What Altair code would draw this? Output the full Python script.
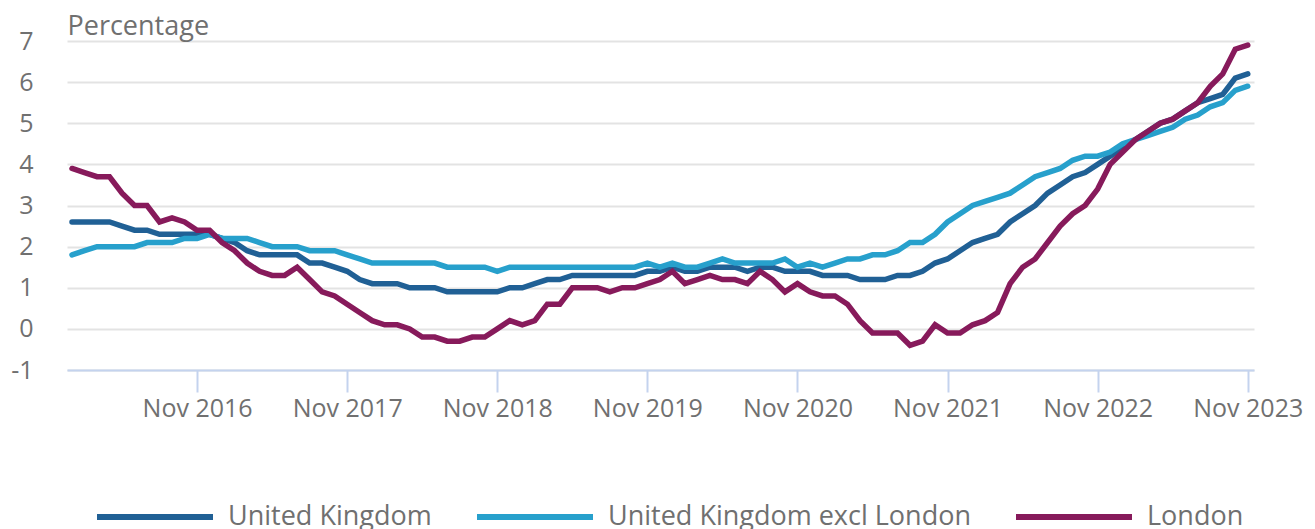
import altair as alt
import pandas as pd

# Monthly, Jan 2016 .. Nov 2023 (95 months)
month_index = list(range(95))

uk = [2.6, 2.6, 2.6, 2.6, 2.5, 2.4, 2.4, 2.3, 2.3, 2.3, 2.3, 2.3,
      2.2, 2.1, 1.9, 1.8, 1.8, 1.8, 1.8, 1.6, 1.6, 1.5, 1.4, 1.2,
      1.1, 1.1, 1.1, 1.0, 1.0, 1.0, 0.9, 0.9, 0.9, 0.9, 0.9, 1.0,
      1.0, 1.1, 1.2, 1.2, 1.3, 1.3, 1.3, 1.3, 1.3, 1.3, 1.4, 1.4,
      1.5, 1.4, 1.4, 1.5, 1.5, 1.5, 1.4, 1.5, 1.5, 1.4, 1.4, 1.4,
      1.3, 1.3, 1.3, 1.2, 1.2, 1.2, 1.3, 1.3, 1.4, 1.6, 1.7, 1.9,
      2.1, 2.2, 2.3, 2.6, 2.8, 3.0, 3.3, 3.5, 3.7, 3.8, 4.0, 4.2,
      4.4, 4.6, 4.8, 5.0, 5.1, 5.3, 5.5, 5.6, 5.7, 6.1, 6.2]

uk_excl_london = [1.8, 1.9, 2.0, 2.0, 2.0, 2.0, 2.1, 2.1, 2.1, 2.2, 2.2, 2.3,
                  2.2, 2.2, 2.2, 2.1, 2.0, 2.0, 2.0, 1.9, 1.9, 1.9, 1.8, 1.7,
                  1.6, 1.6, 1.6, 1.6, 1.6, 1.6, 1.5, 1.5, 1.5, 1.5, 1.4, 1.5,
                  1.5, 1.5, 1.5, 1.5, 1.5, 1.5, 1.5, 1.5, 1.5, 1.5, 1.6, 1.5,
                  1.6, 1.5, 1.5, 1.6, 1.7, 1.6, 1.6, 1.6, 1.6, 1.7, 1.5, 1.6,
                  1.5, 1.6, 1.7, 1.7, 1.8, 1.8, 1.9, 2.1, 2.1, 2.3, 2.6, 2.8,
                  3.0, 3.1, 3.2, 3.3, 3.5, 3.7, 3.8, 3.9, 4.1, 4.2, 4.2, 4.3,
                  4.5, 4.6, 4.7, 4.8, 4.9, 5.1, 5.2, 5.4, 5.5, 5.8, 5.9]

london = [3.9, 3.8, 3.7, 3.7, 3.3, 3.0, 3.0, 2.6, 2.7, 2.6, 2.4, 2.4,
          2.1, 1.9, 1.6, 1.4, 1.3, 1.3, 1.5, 1.2, 0.9, 0.8, 0.6, 0.4,
          0.2, 0.1, 0.1, 0.0, -0.2, -0.2, -0.3, -0.3, -0.2, -0.2, 0.0, 0.2,
          0.1, 0.2, 0.6, 0.6, 1.0, 1.0, 1.0, 0.9, 1.0, 1.0, 1.1, 1.2,
          1.4, 1.1, 1.2, 1.3, 1.2, 1.2, 1.1, 1.4, 1.2, 0.9, 1.1, 0.9,
          0.8, 0.8, 0.6, 0.2, -0.1, -0.1, -0.1, -0.4, -0.3, 0.1, -0.1, -0.1,
          0.1, 0.2, 0.4, 1.1, 1.5, 1.7, 2.1, 2.5, 2.8, 3.0, 3.4, 4.0,
          4.3, 4.6, 4.8, 5.0, 5.1, 5.3, 5.5, 5.9, 6.2, 6.8, 6.9]

series_names = ["United Kingdom", "United Kingdom excl London", "London"]
series_colors = ["#206095", "#27a0cc", "#871a5b"]

tick_months = [10, 22, 34, 46, 58, 70, 82, 94]
tick_labels = ["Nov 2016", "Nov 2017", "Nov 2018", "Nov 2019",
               "Nov 2020", "Nov 2021", "Nov 2022", "Nov 2023"]
y_ticks = [-1, 0, 1, 2, 3, 4, 5, 6, 7]

rows = []
for name, vals in zip(series_names, [uk, uk_excl_london, london]):
    for m, v in zip(month_index, vals):
        rows.append({"month": m, "value": v, "series": name})
df = pd.DataFrame(rows)

x_label_expr = "[" + ",".join("'%s'" % t for t in tick_labels) + "][(datum.value-10)/12]"
y_label_expr = "datum.value < 0 ? '-' + (-datum.value) : '' + datum.value"

FONT = "Open Sans"
TXT = "#707070"

chart = alt.Chart(df).mark_line(strokeWidth=5.5, strokeCap="round").encode(
    x=alt.X("month:Q",
            scale=alt.Scale(domain=[-0.4, 94.5], nice=False, zero=False),
            axis=alt.Axis(title=None, values=tick_months, labelExpr=x_label_expr,
                          grid=False, domainColor="#c4d3ee", domainWidth=2,
                          tickColor="#c4d3ee", tickWidth=2, tickSize=22,
                          labelPadding=4, labelFontSize=25, labelColor=TXT,
                          labelFont=FONT, labelFlush=False)),
    y=alt.Y("value:Q",
            scale=alt.Scale(domain=[-1, 7], nice=False, zero=False),
            axis=alt.Axis(title="Percentage", titleAngle=0, titleAlign="left",
                          titleBaseline="alphabetic", titleX=0, titleY=-7,
                          titleFontSize=27, titleFont=FONT, titleColor=TXT,
                          titleFontWeight="normal",
                          values=y_ticks, labelExpr=y_label_expr,
                          domain=False, ticks=False,
                          labelPadding=34, labelFontSize=25, labelColor=TXT,
                          labelFont=FONT, gridColor="#e3e3e3", gridWidth=2)),
    color=alt.Color("series:N",
                    scale=alt.Scale(domain=series_names, range=series_colors),
                    legend=alt.Legend(title=None, orient="none", legendX=27, legendY=415,
                                      direction="horizontal", symbolType="stroke",
                                      symbolSize=13456, symbolStrokeWidth=6,
                                      labelFontSize=27, labelColor=TXT, labelFont=FONT,
                                      columnPadding=33, labelOffset=12, labelLimit=0)),
).properties(
    width=1187, height=329,
    autosize=alt.AutoSizeParams(type="none"),
    padding={"left": 59, "top": 33, "right": 50, "bottom": 160},
).configure_view(stroke=None)

chart.save("out.html", embed_options={"renderer": "svg", "actions": False})
